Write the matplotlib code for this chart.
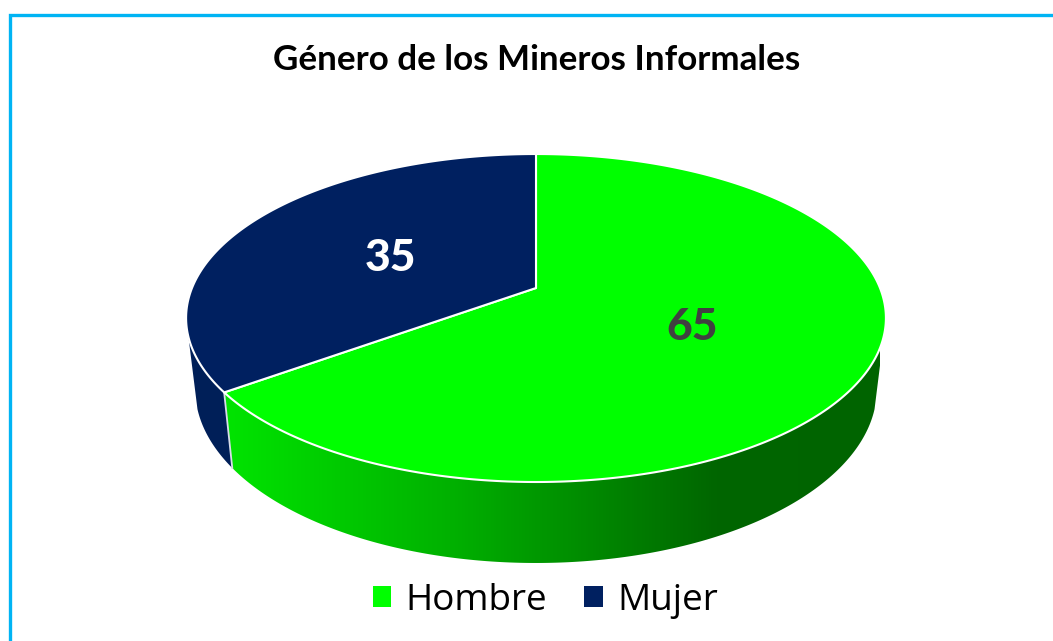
import numpy as np
import matplotlib
matplotlib.use('Agg')
import matplotlib.pyplot as plt
from matplotlib.colors import LinearSegmentedColormap
from matplotlib.patches import Patch, Polygon

categories = ['Hombre', 'Mujer']
values = [65, 35]
colors = ['#00FF00', '#002060']
title = 'Género de los Mineros Informales'

W, H = 1053, 641
cx, apex_y = 536, 288
persp_c, persp_b, persp_s = 0.183, -105.8, 344
side_right, side_left = 107, 253


def top_rim(clock_deg):
    # disc seen in perspective, angle runs clockwise from 12 o'clock
    a = np.radians(clock_deg)
    x, y = np.sin(a), np.cos(a)
    d = 1 + persp_c * y
    return cx + persp_s * x / d, (apex_y + persp_b * y) / d


def bottom_rim(clock_deg):
    x, y = top_rim(clock_deg)
    return cx + 0.974 * (x - cx), 468 + 1.06 * (y - 392.4)


def side_poly(start, stop):
    a = np.linspace(start, stop, 200)
    tx, ty = top_rim(a)
    bx, by = bottom_rim(a[::-1])
    return np.column_stack([np.r_[tx, bx], np.r_[ty, by]])


fig = plt.figure(figsize=(W / 100, H / 100), dpi=100)
ax = fig.add_axes([0, 0, 1, 1])
ax.set_axis_off()

split = values[0] / sum(values) * 360

# side wall
ax.add_patch(Polygon(side_poly(split, side_left), closed=True, fc='#001F58', ec='none', zorder=2))

green_side = Polygon(side_poly(side_right, split), closed=True, fc='none', ec='none', zorder=3)
ax.add_patch(green_side)
shade = LinearSegmentedColormap.from_list('shade', [(0, '#00E400'), (0.35, '#00B000'),
                                                    (0.75, '#006600'), (1, '#006400')])
img = ax.imshow(np.linspace(0, 1, 512).reshape(1, -1), cmap=shade, aspect='auto',
                extent=(225, 880, 570, 300), zorder=3)
img.set_clip_path(green_side)

sx, sy = top_rim(split)
bx, by = bottom_rim(split)
ax.plot([sx, bx], [sy, by], color='#D8DCE8', lw=1.3, zorder=4)

# top face
a1 = np.linspace(0, split, 300)
a2 = np.linspace(split, 360, 200)
for a, col in zip([a1, a2], colors):
    tx, ty = top_rim(a)
    pts = np.column_stack([np.r_[cx, tx], np.r_[apex_y, ty]])
    ax.add_patch(Polygon(pts, closed=True, fc=col, ec='white', lw=1.5, joinstyle='round', zorder=5))

ax.text(692, 327, str(values[0]), color='#404040', fontsize=32, fontweight='black',
        family='Lato', ha='center', va='center', zorder=6)
ax.text(390, 258, str(values[1]), color='white', fontsize=32, fontweight='black',
        family='Lato', ha='center', va='center', zorder=6)

ax.text(537, 60, title, color='black', fontsize=25.2, fontweight='bold',
        family='Lato', ha='center', va='center')

# frame, only top and left are visible
ax.plot([9.5, 9.5, W], [H, 14.5, 14.5], color='#00B4F4', lw=2.4, solid_joinstyle='miter', zorder=7)

handles = [Patch(fc=c, ec='none') for c in colors]
ax.legend(handles, categories, ncol=2, loc='center', bbox_to_anchor=(545.5 / W, 1 - 601 / H),
          frameon=False, prop={'family': 'Open Sans', 'size': 26.6}, handlelength=0.49,
          handleheight=0.49, handletextpad=0.4, columnspacing=1.0, labelcolor='black')

ax.set_xlim(0, W)
ax.set_ylim(H, 0)

fig.savefig('out.png', dpi=100)
